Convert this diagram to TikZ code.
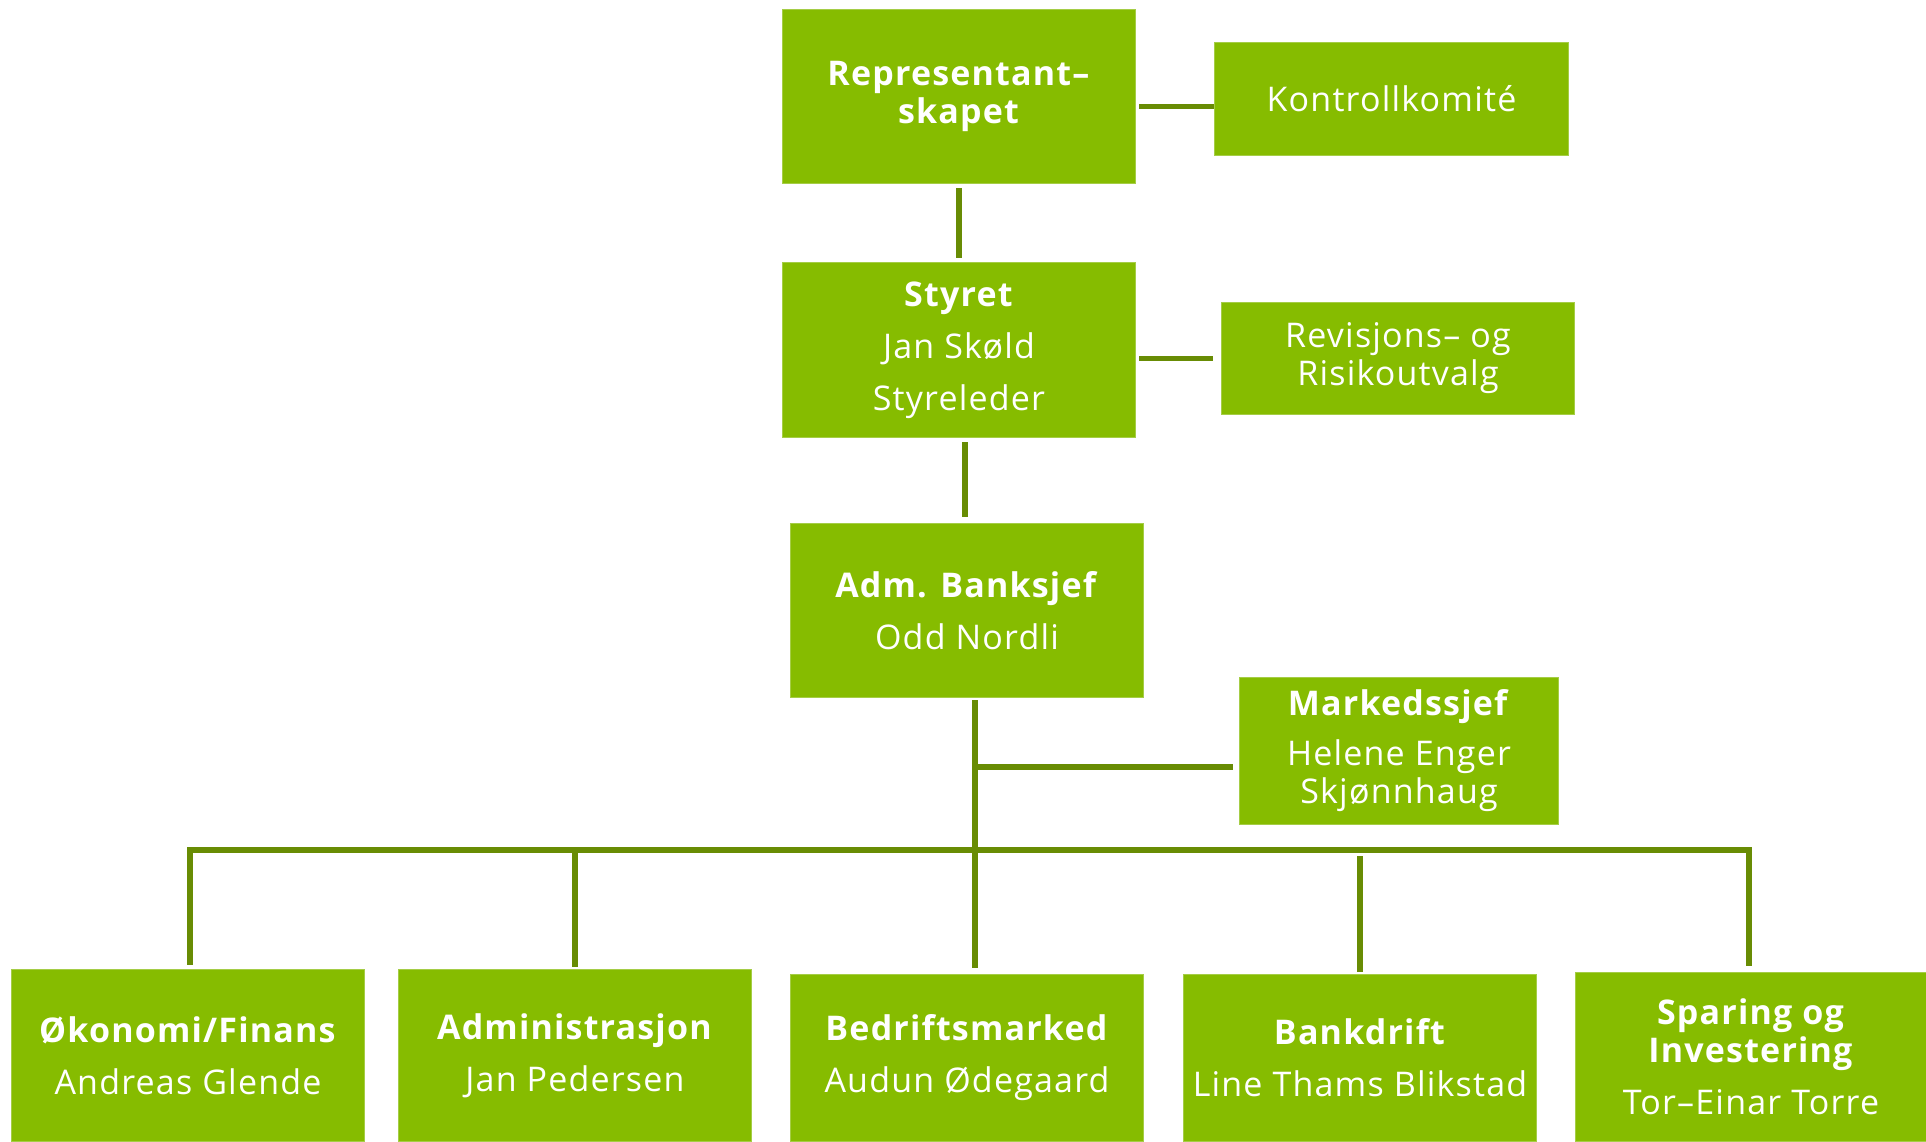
\documentclass[tikz,border=0pt]{standalone}
\usepackage{fontspec}
\setmainfont{Open Sans}[LetterSpace=3.5]
\definecolor{boxgreen}{RGB}{134,188,0}
\definecolor{edgegreen}{RGB}{165,205,70}
\definecolor{linegreen}{RGB}{104,140,4}
\begin{document}
\begin{tikzpicture}[x=0.5pt,y=-0.5pt,
  orgbox/.style={fill=boxgreen, draw=edgegreen, line width=0.5pt, text=white,
    align=center, inner sep=0pt, anchor=north west, font=\fontsize{17}{19}\selectfont},
  conn/.style={draw=linegreen, line width=2.6pt},
  gapped/.style={shorten <=2pt, shorten >=2pt}]
\useasboundingbox (0,0) rectangle (1926,1141);
% top column
\node[orgbox, minimum width=176.5pt, minimum height=87pt] (rep) at (782,9)
  {\textbf{Representant–}\\\textbf{skapet}};
\node[orgbox, minimum width=177pt, minimum height=56.5pt] (kon) at (1214,42)
  {Kontrollkomité};
\node[orgbox, minimum width=176.5pt, minimum height=87.5pt] (sty) at (782,262)
  {\textbf{Styret}\\[7pt]Jan Skøld\\[7pt]Styreleder};
\node[orgbox, minimum width=176.5pt, minimum height=56pt] (rev) at (1221,302)
  {Revisjons– og\\Risikoutvalg};
\node[orgbox, minimum width=176.5pt, minimum height=87pt] (adm) at (790,523)
  {\textbf{Adm. Banksjef}\\[7pt]Odd Nordli};
\node[orgbox, minimum width=159.5pt, minimum height=73.5pt] (mark) at (1239,677)
  {\textbf{Markedssjef}\\[6pt]Helene Enger\\Skjønnhaug};
% bottom row
\node[orgbox, minimum width=176.5pt, minimum height=86pt] (b1) at (11,969)
  {\textbf{Økonomi/Finans}\\[7pt]Andreas Glende};
\node[orgbox, minimum width=176.5pt, minimum height=86pt] (b2) at (398,969)
  {\textbf{Administrasjon}\\[7pt]Jan Pedersen};
\node[orgbox, minimum width=176.5pt, minimum height=83.5pt] (b3) at (790,974)
  {\textbf{Bedriftsmarked}\\[7pt]Audun Ødegaard};
\node[orgbox, minimum width=176.5pt, minimum height=83.5pt] (b4) at (1183,974)
  {\textbf{Bankdrift}\\[7pt]Line Thams Blikstad};
\node[orgbox, minimum width=175.5pt, minimum height=84.5pt] (b5) at (1575,972)
  {\textbf{Sparing og}\\\textbf{Investering}\\[7pt]Tor–Einar Torre};
% connector coordinates
\coordinate (trunk) at (975,850);
\coordinate (busL) at (190,850);
\coordinate (busR) at (1749,850);
\coordinate (admtop) at (965,517);
% connectors
\draw[conn, gapped] (rep.south) -- (rep.south |- sty.north);
\draw[conn] ([xshift=1.5pt,yshift=-5pt]rep.east) -- ([yshift=-5pt]rep.east -| kon.west);
\draw[conn] ([xshift=1.5pt]rev.west -| sty.east) -- ([xshift=-4pt]rev.west);
\draw[conn, shorten <=2pt] (admtop |- sty.south) -- (admtop);
\draw[conn, shorten <=1pt] (trunk |- adm.south) -- (trunk);
\draw[conn, shorten >=3pt] (trunk |- 0,767) -- (mark.west |- 0,767);
\draw[conn, line cap=rect] (busL) -- (busR);
\draw[conn, shorten >=2pt] (busL) -- (busL |- b1.north);
\draw[conn, shorten >=1pt] (b2.north |- busL) -- (b2.north);
\draw[conn, shorten >=3pt] (trunk) -- (trunk |- b3.north);
\draw[conn, shorten <=3pt, shorten >=1pt] (b4.north |- busL) -- (b4.north);
\draw[conn, shorten >=3pt] (busR) -- (busR |- b5.north);
\end{tikzpicture}
\end{document}
